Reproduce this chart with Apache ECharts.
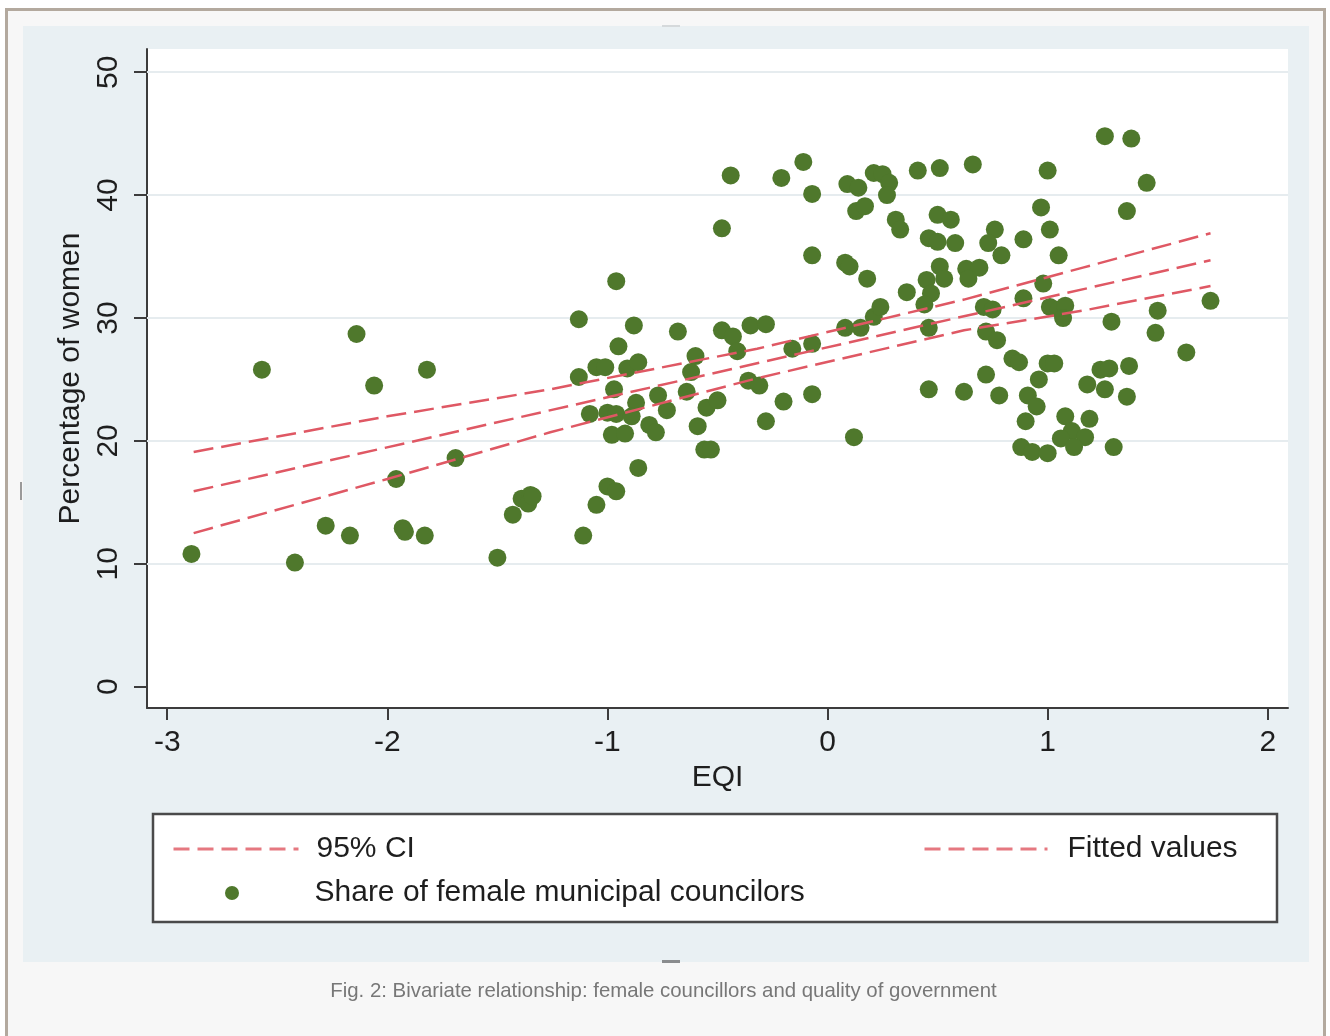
<!DOCTYPE html>
<html><head><meta charset="utf-8">
<script src="https://cdn.jsdelivr.net/npm/echarts@6/dist/echarts.min.js"></script>
<style>html,body{margin:0;padding:0;background:#fff}#c{width:1330px;height:1036px}</style>
</head><body><div id="c"></div><script>
// Share of female municipal councilors (scatter)
const eqi = [-2.89,-2.57,-2.42,-2.28,-2.17,-2.14,-2.06,-1.96,-1.93,-1.92,-1.83,-1.82,-1.69,-1.50,-1.43,-1.39,-1.35,-1.36,-1.34,
 -1.11,-1.05,-1.00,-0.96,-0.86,-0.11,-0.44,-0.21,-0.07,-0.48,0.09,0.14,0.21,0.25,0.28,0.27,0.13,0.17,0.31,0.33,
 -0.07,0.08,0.10,0.18,-0.96,-1.13,-0.88,-0.68,-0.48,-0.43,-0.41,-0.35,-0.28,-0.95,-0.60,-0.16,-0.07,0.08,0.15,0.21,0.24,
 -1.05,-1.01,-1.13,-0.91,-0.86,-0.62,-0.97,-0.64,-0.77,-0.73,-0.87,-1.08,-1.00,-0.96,-0.89,-0.55,-0.50,-0.36,-0.31,-0.20,-0.07,
 -0.28,-0.81,-0.78,-0.98,-0.92,-0.59,-0.56,-0.53,0.12,
 1.26,1.38,0.41,0.51,0.66,1.00,1.45,0.97,1.36,0.50,0.56,0.76,0.73,1.01,0.46,0.50,0.58,0.89,0.79,1.05,
 0.51,0.53,0.63,0.69,0.64,0.45,0.47,0.44,0.36,0.98,0.89,0.71,0.75,1.01,1.05,1.08,1.07,1.74,1.50,0.46,1.29,1.49,
 0.72,0.77,1.63,0.84,0.87,1.00,1.03,1.24,1.28,1.37,0.72,0.96,1.18,1.26,0.46,0.62,0.78,0.91,0.95,1.36,
 0.90,1.08,1.19,1.11,1.17,1.06,1.12,0.88,0.93,1.00,1.30];
const women = [10.8,25.8,10.1,13.1,12.3,28.7,24.5,16.9,12.9,12.6,12.3,25.8,18.6,10.5,14.0,15.3,15.6,14.9,15.5,
 12.3,14.8,16.3,15.9,17.8,42.7,41.6,41.4,40.1,37.3,40.9,40.6,41.8,41.7,41.0,40.0,38.7,39.1,38.0,37.2,
 35.1,34.5,34.2,33.2,33.0,29.9,29.4,28.9,29.0,28.5,27.3,29.4,29.5,27.7,26.9,27.5,27.9,29.2,29.2,30.1,30.9,
 26.0,26.0,25.2,25.9,26.4,25.6,24.2,24.0,23.7,22.5,23.1,22.2,22.3,22.2,22.0,22.7,23.3,24.9,24.5,23.2,23.8,
 21.6,21.3,20.7,20.5,20.6,21.2,19.3,19.3,20.3,
 44.8,44.6,42.0,42.2,42.5,42.0,41.0,39.0,38.7,38.4,38.0,37.2,36.1,37.2,36.5,36.2,36.1,36.4,35.1,35.1,
 34.2,33.2,34.0,34.1,33.2,33.1,32.0,31.1,32.1,32.8,31.6,30.9,30.7,30.9,30.7,31.0,30.0,31.4,30.6,29.2,29.7,28.8,
 28.9,28.2,27.2,26.7,26.4,26.3,26.3,25.8,25.9,26.1,25.4,25.0,24.6,24.2,24.2,24.0,23.7,23.7,22.8,23.6,
 21.6,22.0,21.8,20.8,20.3,20.2,19.5,19.5,19.1,19.0,19.5];
// Fitted values
const fitX = [-2.88, 1.74];
const fitY = [15.9, 34.7];
// 95% CI
const ciX = [-2.88, -2.0, -1.26, -0.32, 0.62, 1.16, 1.74];
const ciUpper = [19.1, 22.0, 24.2, 27.5, 31.5, 34.1, 36.9];
const ciLower = [12.5, 16.9, 20.7, 25.1, 29.0, 30.6, 32.6];
// axes
const xTicks = [-3, -2, -1, 0, 1, 2];
const yTicks = [0, 10, 20, 30, 40, 50];
const yGrid = [10, 20, 30, 40, 50];

const FONT = '"Liberation Sans", Arial, Helvetica, sans-serif';
const RED = '#df5864';
const LEGRED = '#e57880';
const GREEN = '#4f782c';
const zip = (a, b) => a.map((v, i) => [v, b[i]]);

const chart = echarts.init(document.getElementById('c'), null, {renderer: 'canvas'});
chart.setOption({
  animation: false,
  textStyle: {fontFamily: FONT},
  graphic: {elements: [
    {type: 'rect', z: -20, shape: {x: 6.5, y: 9.5, width: 1318, height: 1040}, style: {fill: '#f7f7f7', stroke: '#b3a99e', lineWidth: 3}},
    {type: 'rect', z: -19, shape: {x: 23, y: 26, width: 1286, height: 936}, style: {fill: '#e9f0f3'}},
    {type: 'rect', z: -18, shape: {x: 662, y: 25, width: 18, height: 2}, style: {fill: '#d5d9db'}},
    {type: 'rect', z: -18, shape: {x: 662, y: 960, width: 18, height: 3}, style: {fill: '#8a8c8e'}},
    {type: 'rect', z: -18, shape: {x: 20, y: 482, width: 2, height: 18}, style: {fill: '#9a9a9a'}},
    {type: 'rect', z: 1, shape: {x: 153, y: 814, width: 1124, height: 108}, style: {fill: '#ffffff', stroke: '#4a4a4a', lineWidth: 2.5}},
    {type: 'text', z: 1, x: 663.5, y: 991, style: {text: 'Fig. 2: Bivariate relationship: female councillors and quality of government',
      font: '20.4px ' + FONT, fill: '#777777', align: 'center', verticalAlign: 'middle'}}
  ]},
  grid: {left: 147, right: 42, top: 49, bottom: 328, show: true, backgroundColor: '#ffffff', borderWidth: 0},
  xAxis: {
    type: 'value', min: -3.092, max: 2.092,
    name: 'EQI', nameLocation: 'middle', nameGap: 51,
    nameTextStyle: {fontSize: 30, color: '#1e1e1e', fontFamily: FONT},
    axisLine: {show: true, onZero: false, lineStyle: {color: '#3c3c3c', width: 2}},
    axisTick: {show: true, length: 12, customValues: xTicks, lineStyle: {color: '#3c3c3c', width: 2}},
    axisLabel: {customValues: xTicks, fontSize: 30, color: '#1e1e1e', margin: 20, fontFamily: FONT},
    splitLine: {show: false}
  },
  yAxis: {
    type: 'value', min: -1.733, max: 51.89,
    name: 'Percentage of women', nameLocation: 'middle', nameGap: 55, nameRotate: 90,
    nameTextStyle: {fontSize: 30, color: '#1e1e1e', fontFamily: FONT},
    axisLine: {show: true, onZero: false, lineStyle: {color: '#3c3c3c', width: 2}},
    axisTick: {show: true, length: 13, customValues: yTicks, lineStyle: {color: '#3c3c3c', width: 2}},
    axisLabel: {customValues: yTicks, rotate: 90, fontSize: 30, color: '#1e1e1e', margin: 23, fontFamily: FONT},
    splitLine: {show: false}
  },
  legend: [
    {data: ['95% CI'], left: 172, top: 834, padding: 0, itemWidth: 125, itemHeight: 14, selectedMode: false,
      lineStyle: {type: [16, 8], width: 3, color: LEGRED}, itemStyle: {opacity: 0},
      textStyle: {fontSize: 30, color: '#1e1e1e', fontFamily: FONT, padding: [0, 0, 0, 13]}},
    {data: ['Share of female municipal councilors'], left: 225, top: 878, padding: 0, itemWidth: 125, itemHeight: 14, selectedMode: false,
      textStyle: {fontSize: 30, color: '#1e1e1e', fontFamily: FONT, padding: [0, 0, 0, 15]}},
    {data: ['Fitted values'], left: 923, top: 834, padding: 0, itemWidth: 123, itemHeight: 14, selectedMode: false,
      lineStyle: {type: [16, 8], width: 3, color: LEGRED}, itemStyle: {opacity: 0},
      textStyle: {fontSize: 30, color: '#1e1e1e', fontFamily: FONT, padding: [0, 0, 0, 15]}}
  ],
  series: [
    {name: 'Share of female municipal councilors', type: 'scatter', symbol: 'circle', symbolSize: 18,
      itemStyle: {color: GREEN, opacity: 1}, data: zip(eqi, women), z: 3,
      markLine: {silent: true, symbol: 'none', label: {show: false}, animation: false,
        lineStyle: {color: '#e6ecef', width: 2, type: 'solid'},
        data: yGrid.map(v => ({yAxis: v})), z: 1}},
    {name: '95% CI', type: 'line', symbol: 'none', data: zip(ciX, ciUpper), z: 4,
      lineStyle: {color: RED, width: 2.5, type: [20, 8]}, itemStyle: {color: RED}},
    {name: '95% CI', type: 'line', symbol: 'none', data: zip(ciX, ciLower), z: 4,
      lineStyle: {color: RED, width: 2.5, type: [20, 8]}, itemStyle: {color: RED}},
    {name: 'Fitted values', type: 'line', symbol: 'none', data: zip(fitX, fitY), z: 4,
      lineStyle: {color: RED, width: 2.5, type: [20, 8]}, itemStyle: {color: RED}}
  ]
});
</script></body></html>
